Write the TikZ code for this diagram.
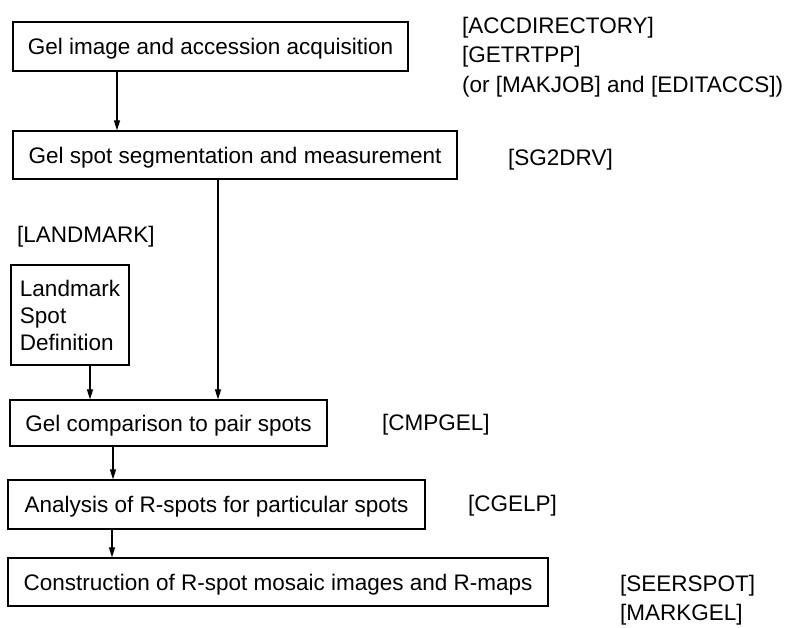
\documentclass[tikz,border=0pt]{standalone}
\usepackage{fontspec}
\setmainfont{Liberation Sans}
\usetikzlibrary{arrows.meta}
\begin{document}
\begin{tikzpicture}[x=1pt,y=-1pt,
  every node/.style={font=\fontsize{22.5}{27}\selectfont},
  stepbox/.style={draw, line width=1.2pt, inner sep=0pt, align=center},
  oneline/.style={text height=16pt, text depth=0pt},
  tag/.style={anchor=base west, inner sep=0pt},
  flow/.style={line width=1.1pt, -{Triangle[length=10pt,width=6pt]}}]
\useasboundingbox[fill=white] (0,0) rectangle (793,627);

% processing steps
\node[stepbox, oneline, minimum width=395pt, minimum height=49pt] (acq) at (210.5,46.5)
  {Gel image and accession acquisition};
\node[stepbox, oneline, minimum width=444pt, minimum height=48pt] (seg) at (235,155)
  {Gel spot segmentation and measurement};
\node[stepbox, minimum width=118pt, minimum height=100pt, align=left] (lmk) at (70,315)
  {Landmark\\Spot\\Definition};
\node[stepbox, oneline, minimum width=317pt, minimum height=46pt] (cmp) at (168.5,423)
  {Gel comparison to pair spots};
\node[stepbox, oneline, minimum width=417pt, minimum height=49pt] (ana) at (216.5,504.5)
  {Analysis of R-spots for particular spots};
\node[stepbox, oneline, minimum width=540pt, minimum height=48pt] (con) at (278,582)
  {Construction of R-spot mosaic images and R-maps};

% program names
\node[tag] (t1) at (462,33) {[ACCDIRECTORY]};
\node[tag] (t2) at (462,62) {[GETRTPP]};
\node[tag] (t3) at (462,92) {(or [MAKJOB] and [EDITACCS])};
\node[tag] (t4) at (508,165) {[SG2DRV]};
\node[tag] (t5) at (17,242) {[LANDMARK]};
\node[tag] (t6) at (382,430) {[CMPGEL]};
\node[tag] (t7) at (468,511) {[CGELP]};
\node[tag] (t8) at (620,591) {[SEERSPOT]};
\node[tag] (t9) at (620,620) {[MARKGEL]};

% connectors
\draw[flow] (acq.south -| 117,0) -- (seg.north -| 117,0);
\draw[flow] (seg.south -| 218,0) -- (cmp.north -| 218,0);
\draw[flow] (lmk.south -| 90,0) -- (cmp.north -| 90,0);
\draw[flow] (cmp.south -| 113,0) -- (ana.north -| 113,0);
\draw[flow] (ana.south -| 112,0) -- (con.north -| 112,0);
\end{tikzpicture}
\end{document}
